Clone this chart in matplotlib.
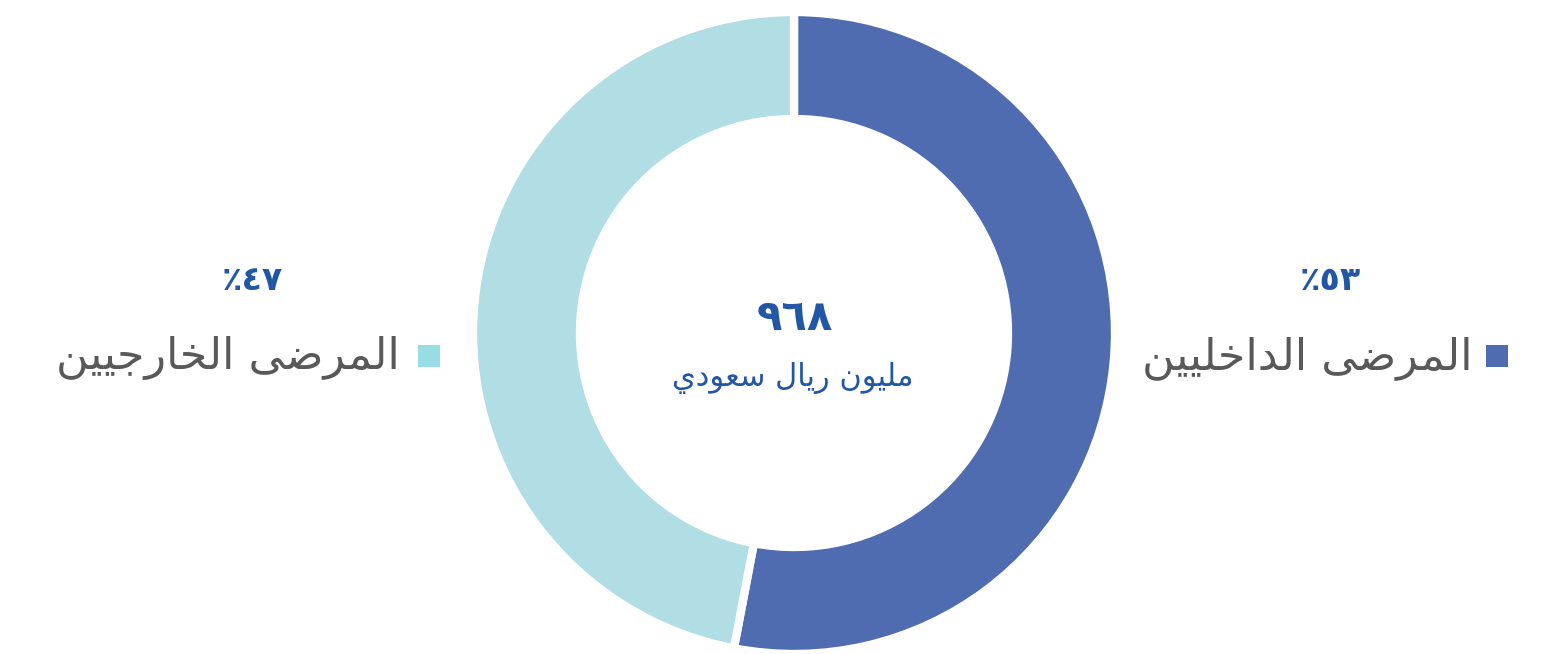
import matplotlib.pyplot as plt

# Arabic text is written in pre-shaped presentation forms, in visual order,
# because matplotlib does no Arabic shaping or bidi reordering.
categories = ["ﻦﻴﻴﻠﺧﺍﺪﻟﺍ ﻰﺿﺮﻤﻟﺍ",   # inpatients
              "ﻦﻴﻴﺟﺭﺎﺨﻟﺍ ﻰﺿﺮﻤﻟﺍ"]   # outpatients
shares = [53, 47]
share_labels = ["٪٥٣", "٪٤٧"]
total_value = "٩٦٨"
total_unit = "ﻱﺩﻮﻌﺳ ﻝﺎﻳﺭ ﻥﻮﻴﻠﻣ"

slice_colors = ["#4f6cb0", "#b0dee4"]
legend_colors = ["#4f6cb0", "#97dde3"]
text_gray = "#595959"
text_blue = "#2157a4"

W, H = 1544, 654
fig = plt.figure(figsize=(W / 100, H / 100), dpi=100)
ax = fig.add_axes([0, 0, 1, 1])

cx, cy = 794, H - 333
ax.pie(shares, colors=slice_colors, startangle=90, counterclock=False,
       center=(cx, cy), radius=321,
       wedgeprops=dict(width=107, edgecolor="white", linewidth=6))
ax.set_xlim(0, W)
ax.set_ylim(0, H)
ax.set_aspect("equal")
ax.axis("off")

# center text
ax.text(cx + 1, H - 318, total_value, ha="center", va="center",
        fontsize=30, fontweight="bold", color=text_blue)
ax.text(cx - 1, H - 378, total_unit, ha="center", va="center",
        fontsize=22, color=text_blue)

# side labels: (percent x, label right edge x, square x)
sides = [(1330, 1472, 1497), (252, 400, 429)]
for i, (px, lx, sx) in enumerate(sides):
    ax.text(px, H - 280, share_labels[i], ha="center", va="center",
            fontsize=24, fontweight="bold", color=text_blue)
    ax.text(lx, H - 358, categories[i], ha="right", va="center",
            fontsize=32, color=text_gray)
    ax.scatter([sx], [H - 356], marker="s", s=260, color=legend_colors[i],
               linewidths=0)

fig.savefig("out.png", dpi=100)
